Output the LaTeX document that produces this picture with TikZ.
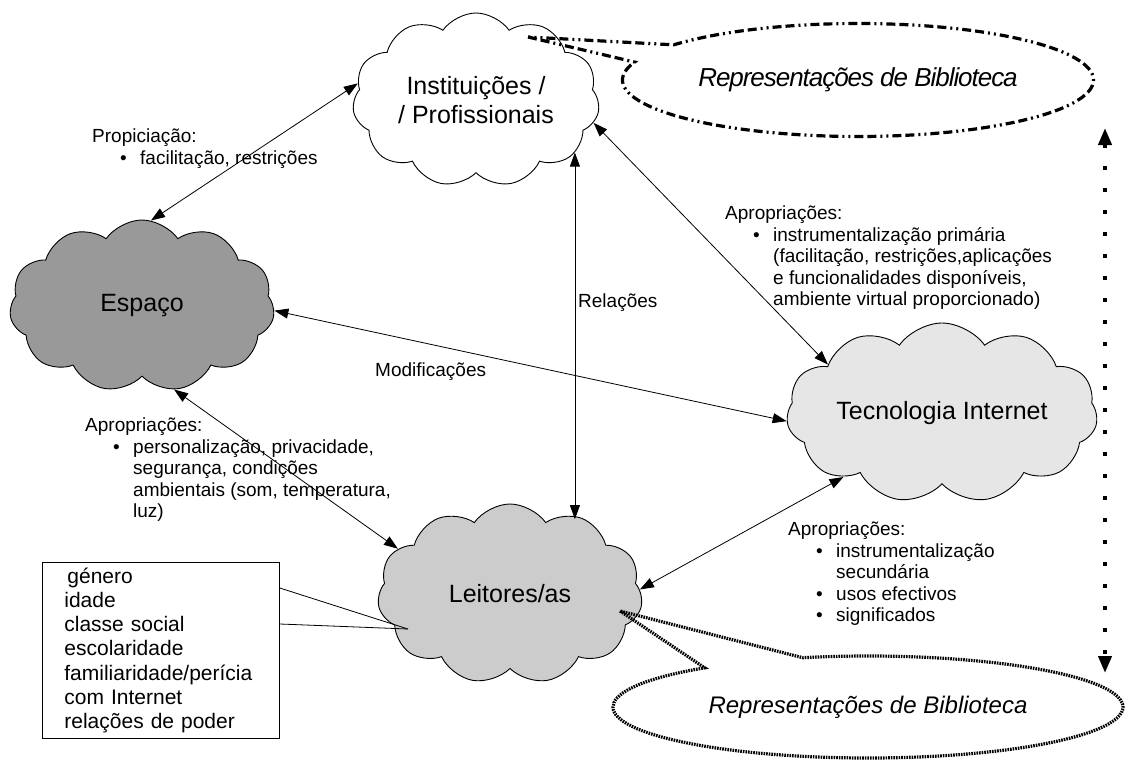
\documentclass[tikz,border=0pt]{standalone}
\usepackage{fontspec}
\setmainfont{Liberation Sans}
\usetikzlibrary{shapes.symbols,shapes.callouts,arrows.meta,calc}
\definecolor{espacogray}{HTML}{999999}
\definecolor{leitgray}{HTML}{CCCCCC}
\definecolor{tecgray}{HTML}{E6E6E6}
\tikzset{
  cloudy/.style={cloud, cloud puffs=11, cloud puff arc=110, cloud ignores aspect,
    draw=black, line width=0.9pt, inner sep=0pt, align=center,
    font=\fontsize{25}{29}\selectfont},
  dbl/.style={{Triangle[length=14pt,width=10pt]}-{Triangle[length=14pt,width=10pt]}, line width=0.8pt},
  lbl/.style={anchor=north west, inner sep=0pt, align=left,
    font=\fontsize{19}{21.5}\selectfont},
  rep/.style={ellipse callout, draw=black, inner sep=0pt},
  dashdot/.style={line width=3.2pt, dash pattern=on 9pt off 4pt on 9pt off 4pt on 2pt off 4pt on 2pt off 4pt},
  dotline/.style={line width=3.2pt, dash pattern=on 1.6pt off 1pt},
  dotarrow/.style={{Triangle[length=17pt,width=13pt]}-{Triangle[length=17pt,width=13pt]},
    line width=4pt, dash pattern=on 4pt off 18pt},
}
\newcommand{\itm}{\hspace*{28pt}\makebox[20pt][l]{\textbullet}}
\newcommand{\cnt}{\hspace*{48pt}}
\begin{document}
\begin{tikzpicture}[x=1pt,y=-1pt]
\useasboundingbox (0,0) rectangle (1135,760);

% clouds
\node[cloudy, fill=white, minimum width=247pt, minimum height=174pt] (inst) at (476,100) {Instituições /\\/ Profissionais};
\node[cloudy, fill=espacogray, minimum width=265pt, minimum height=172pt] (espaco) at (142,306) {Espaço};
\node[cloudy, fill=tecgray, minimum width=311pt, minimum height=180pt] (tec) at (942,413) {Tecnologia Internet};
\node[cloudy, fill=leitgray, minimum width=265pt, minimum height=180pt] (leit) at (510,594) {Leitores/as};

% callouts
\node[rep, dashdot, minimum width=471pt, minimum height=113pt, callout pointer arc=20,
  callout absolute pointer={($(inst.center)+(52,-63)$)},
  font=\fontsize{26}{30}\selectfont\itshape\addfontfeatures{LetterSpace=-4}] (reptop) at (858,80) {Representações de Biblioteca};
\node[rep, dotline, minimum width=510pt, minimum height=102pt, callout pointer arc=25,
  callout absolute pointer={($(leit.center)+(110,17)$)},
  font=\fontsize{24}{29}\selectfont\itshape] (repbot) at (868,707) {Representações de Biblioteca};

% connectors
\draw[dbl] (inst.172) -- (espaco.84);
\draw[dbl] (inst.-28) -- (inst.-28 |- leit.45);
\draw[dbl] (inst.-11) -- (tec.157);
\draw[dbl] (espaco.-2) -- (tec.-177);
\draw[dbl] (espaco.-69) -- (leit.158);
\draw[dbl] (tec.-147) -- (leit.2);

\coordinate (dtop) at (1105,128);
\coordinate (dbot) at (1105,673);
\draw[dotarrow] (dtop) -- (dbot);

% box
\node[draw, line width=0.8pt, anchor=north west, inner xsep=22pt, inner ysep=0pt,
  text width=193pt, minimum height=176pt, align=left,
  font=\fontsize{21}{24.3}\selectfont] (perfil) at (42,562)
  {\hspace*{3pt}género\\idade\\classe social\\escolaridade\\familiaridade/perícia\\com Internet\\relações de poder};
\coordinate (leitin) at (408,629);
\draw[line width=0.8pt] ($(perfil.north east)+(0,26)$) -- (leitin);
\draw[line width=0.8pt] ($(perfil.north east)+(0,62)$) -- (leitin);

% labels
\node[lbl] (lprop) at (92,129) {Propiciação:\\\itm facilitação, restrições};
\node[lbl] (lrel) at (578,294) {Relações};
\node[lbl] (lmod) at (375,363) {Modificações};
\node[lbl] (lesp) at (85,418) {Apropriações:\\\itm personalização, privacidade,\\\cnt segurança, condições\\\cnt ambientais (som, temperatura,\\\cnt luz)};
\node[lbl] (linst) at (725,206) {Apropriações:\\\itm instrumentalização primária\\\cnt (facilitação, restrições,aplicações\\\cnt e funcionalidades disponíveis,\\\cnt ambiente virtual proporcionado)};
\node[lbl] (lleit) at (788,522) {Apropriações:\\\itm instrumentalização\\\cnt secundária\\\itm usos efectivos\\\itm significados};
\end{tikzpicture}
\end{document}
